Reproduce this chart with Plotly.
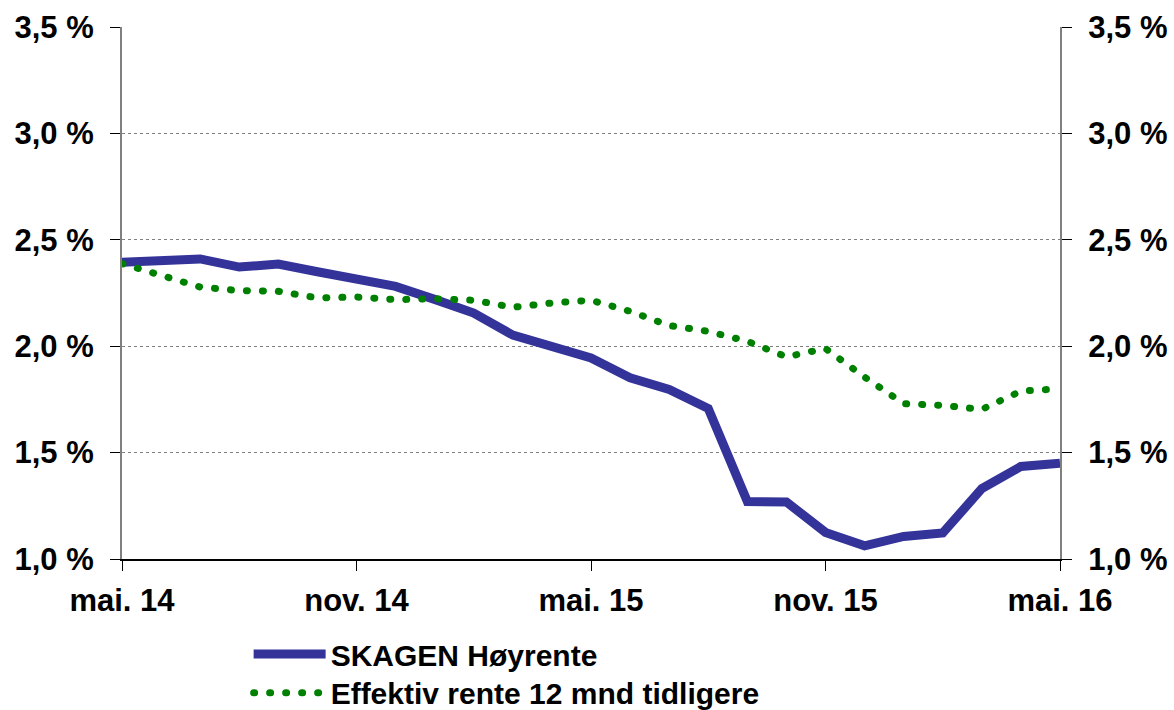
import plotly.graph_objects as go

months = ["mai. 14", "jun. 14", "jul. 14", "aug. 14", "sep. 14", "okt. 14", "nov. 14",
          "des. 14", "jan. 15", "feb. 15", "mar. 15", "apr. 15", "mai. 15", "jun. 15",
          "jul. 15", "aug. 15", "sep. 15", "okt. 15", "nov. 15", "des. 15", "jan. 16",
          "feb. 16", "mar. 16", "apr. 16", "mai. 16"]

skagen = [2.394, 2.403, 2.410, 2.372, 2.386, 2.350, 2.315, 2.281, 2.220, 2.156,
          2.052, 2.000, 1.945, 1.852, 1.797, 1.707, 1.270, 1.268, 1.125, 1.062,
          1.106, 1.122, 1.331, 1.435, 1.450]

effektiv = [2.388, 2.333, 2.278, 2.261, 2.258, 2.227, 2.231, 2.219, 2.223, 2.216,
            2.183, 2.203, 2.216, 2.164, 2.097, 2.070, 2.023, 1.950, 1.989, 1.855,
            1.730, 1.722, 1.703, 1.789, 1.800]

x_ticks = ["mai. 14", "nov. 14", "mai. 15", "nov. 15", "mai. 16"]
y_ticks = [1.0, 1.5, 2.0, 2.5, 3.0, 3.5]
y_labels = ["1,0 %", "1,5 %", "2,0 %", "2,5 %", "3,0 %", "3,5 %"]

FONT = "Liberation Sans, Arial, sans-serif"
TICKFONT = dict(family=FONT, size=31, color="#000000", weight="bold")
LEGFONT = dict(family=FONT, size=30, color="#000000", weight="bold")

fig = go.Figure()
fig.add_trace(go.Scatter(x=months, y=skagen, mode="lines", name="SKAGEN Høyrente",
                         legend="legend",
                         line=dict(color="#333399", width=9), hoverinfo="skip"))
fig.add_trace(go.Scatter(x=months, y=effektiv, mode="lines", name="Effektiv rente 12 mnd tidligere",
                         legend="legend2",
                         line=dict(color="#008000", width=7, dash="1px,15px"), hoverinfo="skip"))
fig.add_trace(go.Scatter(x=months, y=skagen, yaxis="y2", mode="lines", showlegend=False,
                         line=dict(width=0), opacity=0, hoverinfo="skip"))

yax = dict(range=[1.0, 3.5], tickvals=y_ticks, ticktext=y_labels,
           showgrid=True, gridcolor="#808080", griddash="dot", gridwidth=1,
           showline=True, linecolor="#808080", linewidth=2,
           ticks="outside", ticklen=10, tickcolor="#000000", tickwidth=1,
           ticklabelstandoff=10, zeroline=False, automargin=False,
           tickfont=TICKFONT)

legbase = dict(x=0.135, xanchor="left", yanchor="top", orientation="v",
               bgcolor="rgba(0,0,0,0)", itemwidth=72, font=LEGFONT)

fig.update_layout(
    width=1174, height=710,
    margin=dict(l=122, r=114, t=27, b=151, autoexpand=False),
    paper_bgcolor="white", plot_bgcolor="white",
    font=dict(family=FONT, size=30, color="#000000", weight="bold"),
    xaxis=dict(type="category", range=[0, 24], tickvals=x_ticks, ticktext=x_ticks,
               showgrid=False, showline=True, linecolor="#000000", linewidth=1.5,
               ticks="outside", ticklen=10, tickcolor="#000000", ticklabelstandoff=3,
               zeroline=False, automargin=False, tickfont=TICKFONT),
    yaxis=yax,
    yaxis2=dict(yax, overlaying="y", side="right", showgrid=False),
    showlegend=True,
    legend=dict(legbase, y=-0.1295),
    legend2=dict(legbase, y=-0.2025),
)

post = """
document.body.style.margin = '0';
document.body.style.padding = '0';
document.body.style.overflow = 'hidden';
function fixCaps(){
  var paths = document.querySelectorAll('.scatterlayer .trace path.js-line, .legendlines path');
  paths.forEach(function(p){
    var d = p.style.strokeDasharray || p.getAttribute('stroke-dasharray') || '';
    if (d && d.indexOf('1px') === 0) { p.style.strokeLinecap = 'round'; }
  });
}
fixCaps();
var gd = document.getElementsByClassName('plotly-graph-div')[0];
if (gd && gd.on) { gd.on('plotly_afterplot', fixCaps); }
"""

fig.write_html("out.html", post_script=post, config={"displayModeBar": False})
